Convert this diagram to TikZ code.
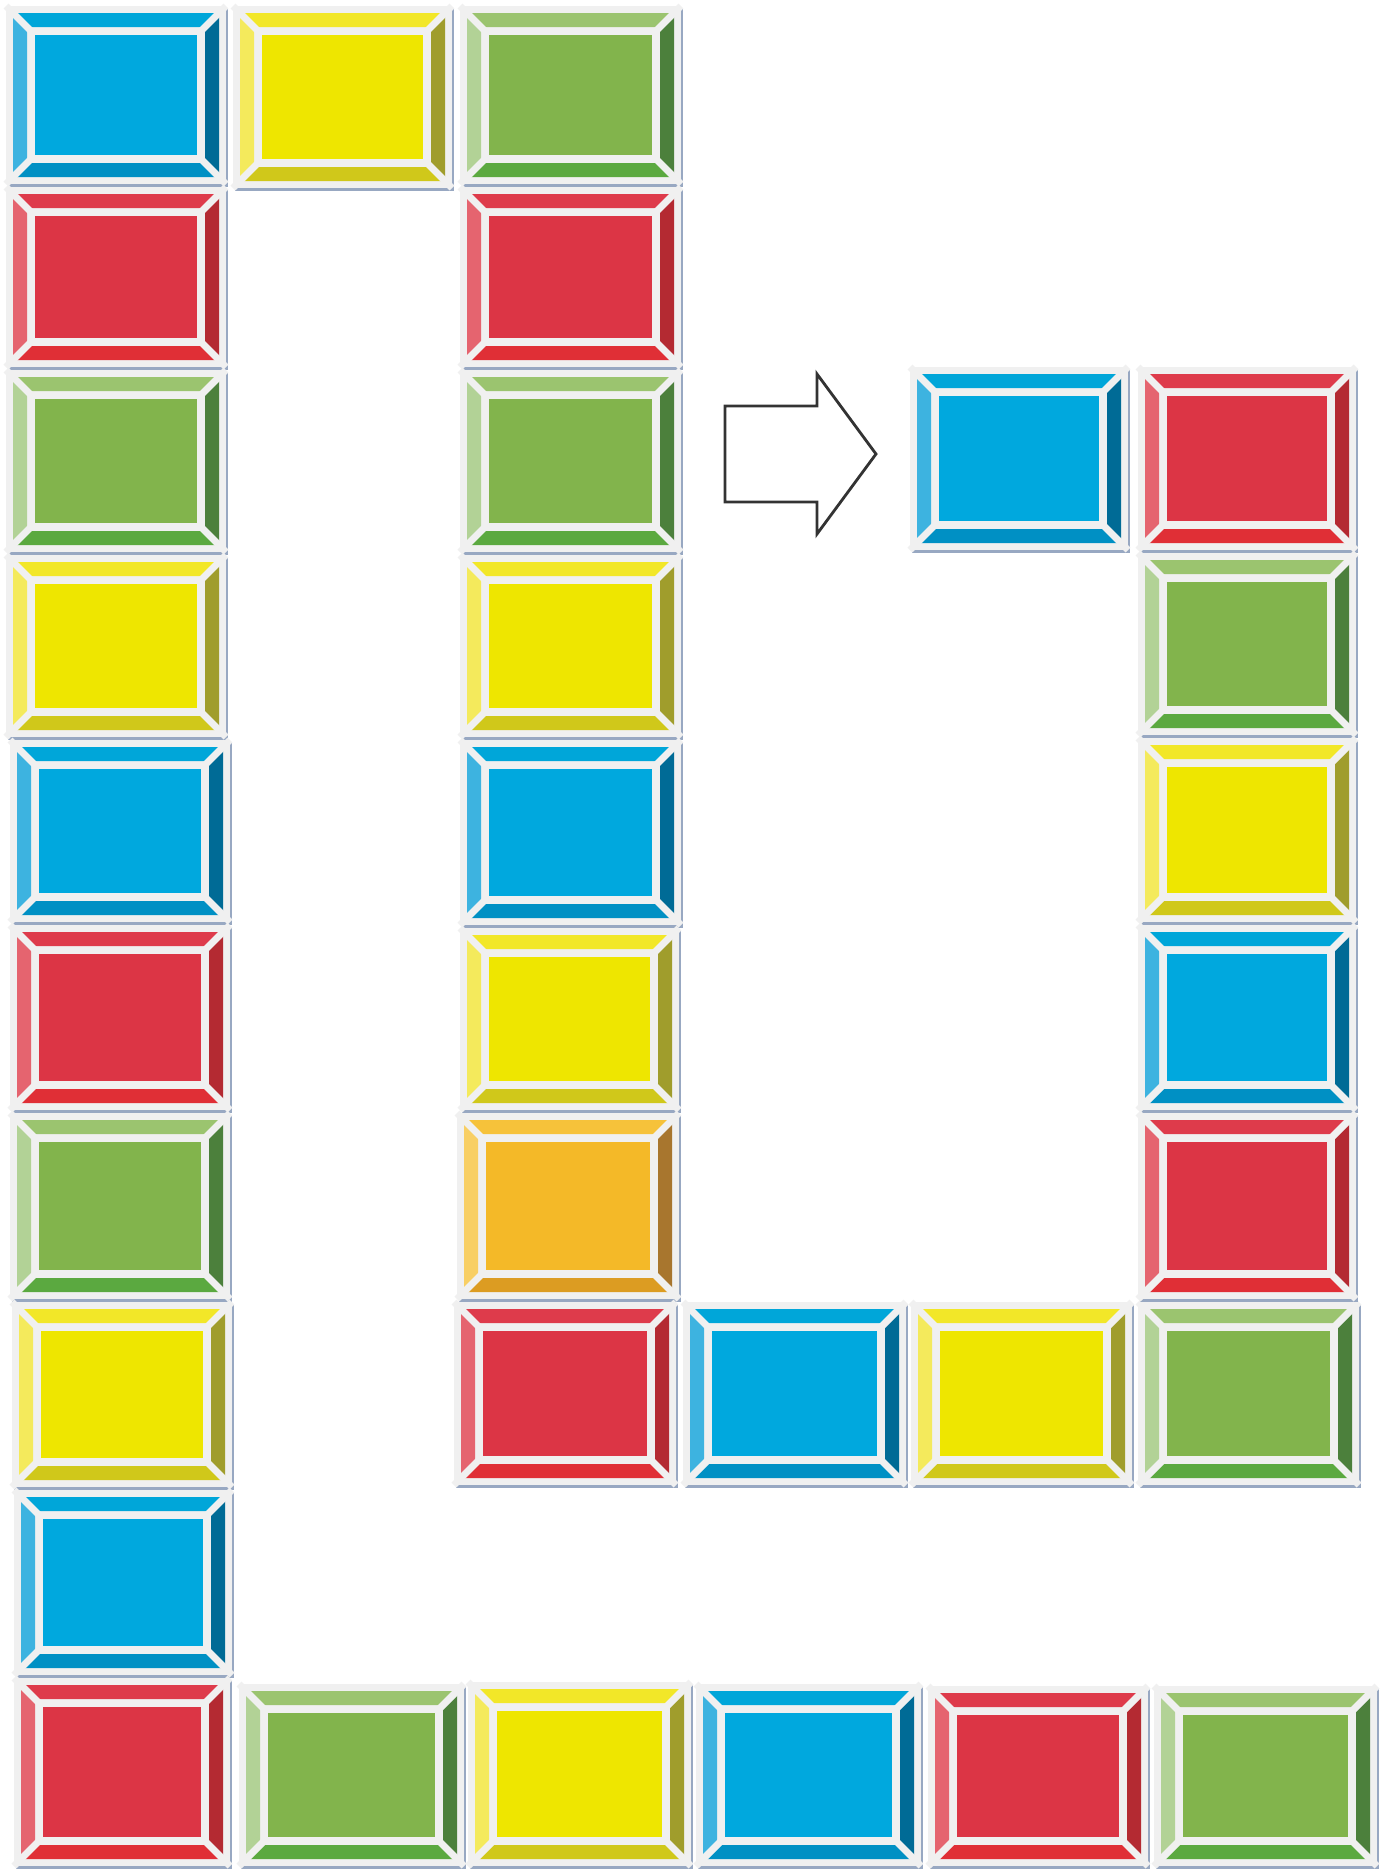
\documentclass[tikz,border=0pt]{standalone}

\definecolor{frameGray}{HTML}{F0F0F0}
\definecolor{shadowBlue}{HTML}{98A8C2}
\definecolor{arrowGray}{HTML}{333333}
\definecolor{blueMain}{HTML}{00A8DE}
\definecolor{blueTop}{HTML}{00A6D9}
\definecolor{blueLeft}{HTML}{3DB3E0}
\definecolor{blueRight}{HTML}{006B96}
\definecolor{blueBot}{HTML}{0090C4}
\definecolor{redMain}{HTML}{DC3545}
\definecolor{redTop}{HTML}{DE3B4B}
\definecolor{redLeft}{HTML}{E5646F}
\definecolor{redRight}{HTML}{B42A32}
\definecolor{redBot}{HTML}{E02F36}
\definecolor{greenMain}{HTML}{82B44C}
\definecolor{greenTop}{HTML}{9BC46F}
\definecolor{greenLeft}{HTML}{B2D296}
\definecolor{greenRight}{HTML}{4C803C}
\definecolor{greenBot}{HTML}{5BA940}
\definecolor{yellowMain}{HTML}{EEE600}
\definecolor{yellowTop}{HTML}{F2E728}
\definecolor{yellowLeft}{HTML}{F4EA5C}
\definecolor{yellowRight}{HTML}{A09D2C}
\definecolor{yellowBot}{HTML}{D0C81A}
\definecolor{orangeMain}{HTML}{F4B928}
\definecolor{orangeTop}{HTML}{F6C23A}
\definecolor{orangeLeft}{HTML}{F8CF64}
\definecolor{orangeRight}{HTML}{A8762E}
\definecolor{orangeBot}{HTML}{DC9C22}

\tikzset{
    tileframe/.style={fill=frameGray},
    tilegap/.style={draw=frameGray, line width=2pt},
    tileshadow/.style={fill=shadowBlue},
    arrowline/.style={draw=arrowGray, line width=0.8pt, line join=miter, fill=white}
}

% one bevelled tile: left, top, width, height, colour
\newcommand{\tile}[5]{%
    \pgfmathsetmacro\tileR{#1+#3-2}%
    \pgfmathsetmacro\tileB{#2+#4-3}%
    \fill[tileshadow] ({#1+2},{#2+3}) rectangle ({#1+#3},{#2+#4});
    \fill[tileframe] (#1,#2) rectangle (\tileR,\tileB);
    \fill[#5Top] ({#1+7},{#2+7}) -- ({\tileR-7},{#2+7}) -- ({\tileR-21},{#2+21}) -- ({#1+21},{#2+21}) -- cycle;
    \fill[#5Bot] ({#1+7},{\tileB-7}) -- ({\tileR-7},{\tileB-7}) -- ({\tileR-21},{\tileB-21}) -- ({#1+21},{\tileB-21}) -- cycle;
    \fill[#5Left] ({#1+7},{#2+7}) -- ({#1+21},{#2+21}) -- ({#1+21},{\tileB-21}) -- ({#1+7},{\tileB-7}) -- cycle;
    \fill[#5Right] ({\tileR-7},{#2+7}) -- ({\tileR-21},{#2+21}) -- ({\tileR-21},{\tileB-21}) -- ({\tileR-7},{\tileB-7}) -- cycle;
    \draw[tilegap] (#1,#2) -- ({#1+29},{#2+29});
    \draw[tilegap] (\tileR,#2) -- ({\tileR-29},{#2+29});
    \draw[tilegap] (#1,\tileB) -- ({#1+29},{\tileB-29});
    \draw[tilegap] (\tileR,\tileB) -- ({\tileR-29},{\tileB-29});
    \fill[#5Main] ({#1+29},{#2+29}) rectangle ({\tileR-29},{\tileB-29});
}

\begin{document}
\begin{tikzpicture}[x=0.01cm, y=-0.01cm]
    \useasboundingbox[fill=white] (0,0) rectangle (1396,1872);

    % left column and top row
    \foreach \x/\y/\w/\h/\c in {6/6/222/181/blue, 6/187/222/183/red, 6/370/222/185/green,
            6/555/222/185/yellow, 10/740/222/185/blue, 10/925/222/188/red,
            10/1113/222/189/green, 12/1302/222/188/yellow, 14/1490/220/188/blue,
            14/1678/218/191/red, 233/6/221/185/yellow, 460/6/223/181/green} {
        \tile{\x}{\y}{\w}{\h}{\c}
    }

    % middle column and its bottom row
    \foreach \x/\y/\w/\h/\c in {460/187/223/183/red, 460/370/223/185/green, 460/555/223/185/yellow,
            460/740/223/188/blue, 460/928/221/185/yellow, 457/1113/224/189/orange,
            454/1302/224/186/red, 683/1302/225/186/blue, 911/1302/223/186/yellow,
            1138/1302/223/186/green} {
        \tile{\x}{\y}{\w}{\h}{\c}
    }

    % right column
    \foreach \x/\y/\w/\h/\c in {910/367/220/186/blue, 1138/367/220/186/red, 1138/553/220/185/green,
            1138/738/220/187/yellow, 1138/925/220/188/blue, 1138/1113/220/189/red} {
        \tile{\x}{\y}{\w}{\h}{\c}
    }

    % bottom row
    \foreach \x/\y/\w/\h/\c in {239/1684/227/185/green, 468/1682/225/187/yellow, 696/1684/227/185/blue,
            928/1686/222/183/red, 1154/1686/225/183/green} {
        \tile{\x}{\y}{\w}{\h}{\c}
    }

    % block arrow
    \draw[arrowline] (725,406) -- (817,406) -- (817,374) -- (876,454) -- (817,534)
        -- (817,502) -- (725,502) -- cycle;
\end{tikzpicture}
\end{document}
